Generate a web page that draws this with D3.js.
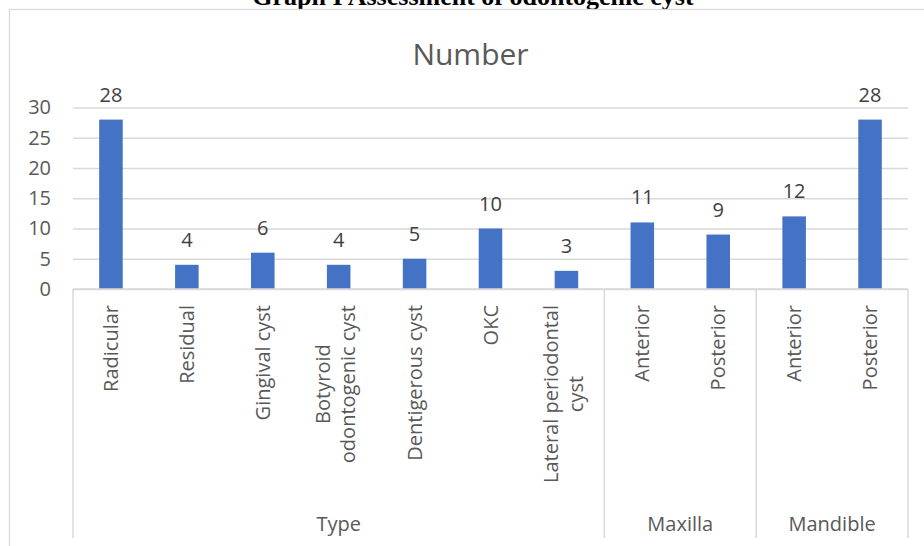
<!DOCTYPE html>
<html>
<head>
<meta charset="utf-8">
<script src="https://cdn.jsdelivr.net/npm/d3@7"></script>
<style>
  html, body { margin: 0; padding: 0; background: #fff; }
  svg { display: block; }
  text { font-family: "Open Sans", "Noto Sans", sans-serif; }
</style>
</head>
<body>
<svg id="chart" width="924" height="546"></svg>
<script>
// ---- data ----
const categories = [
  ["Radicular"],
  ["Residual"],
  ["Gingival cyst"],
  ["Botyroid", "odontogenic cyst"],
  ["Dentigerous cyst"],
  ["OKC"],
  ["Lateral periodontal", "cyst"],
  ["Anterior"],
  ["Posterior"],
  ["Anterior"],
  ["Posterior"]
];
const values = [28, 4, 6, 4, 5, 10, 3, 11, 9, 12, 28];
const groups = ["Type", "Maxilla", "Mandible"];
const groupSizes = [7, 2, 2];
const yTicks = [0, 5, 10, 15, 20, 25, 30];
const seriesName = "Number";
const figureTitle = "Graph I Assessment of odontogenic cyst";

// ---- layout ----
const W = 924, H = 546;
const plot = { left: 73, right: 908, top: 107.5, bottom: 289 };
const gridColor = "#d9d9d9";
const barColor = "#4472C4";

const svg = d3.select("#chart");

// figure caption (cut at top)
svg.append("text")
  .attr("x", 473).attr("y", 4.5)
  .attr("text-anchor", "middle")
  .style("font-family", "'Liberation Serif', 'Times New Roman', serif")
  .style("font-weight", "bold")
  .style("font-size", "26px")
  .attr("fill", "#000")
  .text(figureTitle);

// chart border
svg.append("rect")
  .attr("x", 9.5).attr("y", 9.5)
  .attr("width", W + 20).attr("height", H + 20)
  .attr("fill", "none").attr("stroke", gridColor).attr("stroke-width", 1.3);

// scales
const idx = d3.range(categories.length);
const x = d3.scaleBand().domain(idx).range([plot.left, plot.right])
  .paddingInner(0.69).paddingOuter(0.345);
const y = d3.scaleLinear().domain([0, 30]).range([plot.bottom, plot.top]);

// chart title
svg.append("text")
  .attr("x", 470.5).attr("y", 65)
  .attr("text-anchor", "middle")
  .style("font-size", "30px")
  .attr("fill", "#595959")
  .text(seriesName);

// y axis with gridlines
const yAxis = svg.append("g")
  .attr("transform", `translate(${plot.left},0)`)
  .call(d3.axisLeft(y).tickValues(yTicks).tickSize(-(plot.right - plot.left)).tickPadding(22));
yAxis.select(".domain").remove();
yAxis.selectAll(".tick line").attr("stroke", gridColor).attr("stroke-width", 1.3);
yAxis.selectAll(".tick text")
  .style("font-size", "20px")
  .style("font-family", "'Open Sans', 'Noto Sans', sans-serif")
  .attr("fill", "#595959");

// bars
svg.append("g").selectAll("rect")
  .data(idx)
  .join("rect")
  .attr("x", i => x(i))
  .attr("y", i => y(values[i]))
  .attr("width", x.bandwidth())
  .attr("height", i => y(0) - y(values[i]))
  .attr("fill", barColor);

// data labels
svg.append("g").selectAll("text")
  .data(idx)
  .join("text")
  .attr("x", i => x(i) + x.bandwidth() / 2)
  .attr("y", i => y(values[i]) - 18)
  .attr("text-anchor", "middle")
  .style("font-size", "20px")
  .attr("fill", "#404040")
  .text(i => values[i]);

// category axis line
svg.append("line")
  .attr("x1", plot.left).attr("x2", plot.right)
  .attr("y1", y(0)).attr("y2", y(0))
  .attr("stroke", gridColor).attr("stroke-width", 1.3);

// group separators
const step = x.step();
let boundaries = [0];
groupSizes.reduce((acc, s) => { boundaries.push(acc + s); return acc + s; }, 0);
const bx = b => plot.left + b * step;
svg.append("g").selectAll("line")
  .data(boundaries)
  .join("line")
  .attr("x1", b => bx(b)).attr("x2", b => bx(b))
  .attr("y1", y(0)).attr("y2", 538)
  .attr("stroke", gridColor).attr("stroke-width", 1.5);

// rotated category labels
const labelTop = 305;
const lineGap = 25;
const catG = svg.append("g");
idx.forEach(i => {
  const lines = categories[i];
  const cx = x(i) + x.bandwidth() / 2;
  // measure longest line
  const tmp = catG.append("text").style("font-size", "20px");
  let maxLen = 0;
  lines.forEach(l => { tmp.text(l); maxLen = Math.max(maxLen, tmp.node().getComputedTextLength()); });
  tmp.remove();
  const cy = labelTop + maxLen / 2;
  const n = lines.length;
  lines.forEach((l, j) => {
    const off = (j - (n - 1) / 2) * lineGap + 7 - (n > 1 ? 3 : 0);
    catG.append("text")
      .attr("transform", `translate(${cx + off},${cy}) rotate(-90)`)
      .attr("text-anchor", "middle")
      .style("font-size", "20px")
      .attr("fill", "#595959")
      .text(l);
  });
});

// group labels
let start = 0;
groups.forEach((g, k) => {
  const mid = plot.left + (start + groupSizes[k] / 2) * step;
  svg.append("text")
    .attr("x", mid).attr("y", 531)
    .attr("text-anchor", "middle")
    .style("font-size", "20px")
    .attr("fill", "#595959")
    .text(g);
  start += groupSizes[k];
});
</script>
</body>
</html>
